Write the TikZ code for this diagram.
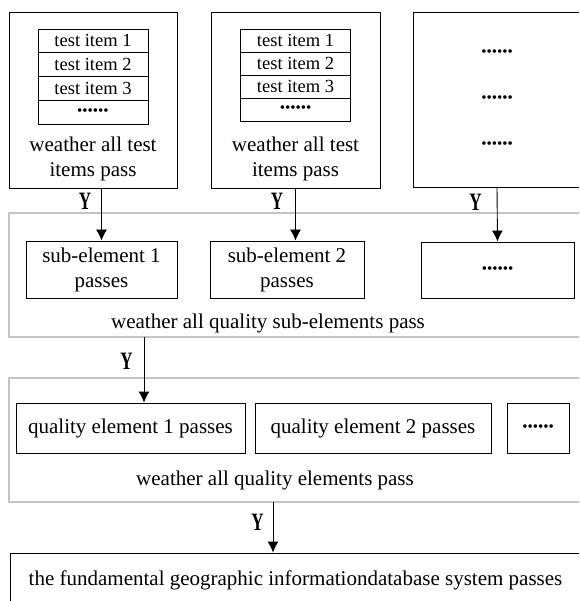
\documentclass[tikz,border=0pt]{standalone}
\usepackage{fontspec}
\setmainfont{Liberation Serif}
\usetikzlibrary{arrows.meta}
\definecolor{grpgray}{RGB}{196,196,196}
\tikzset{
  box/.style={draw, line width=0.9pt, inner sep=0pt, align=center,
    font=\fontsize{21}{25}\selectfont},
  cell/.style={draw, line width=0.9pt, inner sep=0pt, minimum width=110pt,
    font=\fontsize{18.5}{20}\selectfont},
  grp/.style={draw=grpgray, line width=1.1pt, inner sep=0pt},
  txt/.style={inner sep=0pt, align=center, font=\fontsize{21}{25}\selectfont},
  ylbl/.style={inner sep=0pt, font=\bfseries\fontsize{25}{25}\selectfont},
  flow/.style={line width=0.9pt, -{Latex[length=11pt,width=11pt]}}
}
\newcommand{\sixdots}{{\fontsize{15}{15}\selectfont\textbullet\textbullet\textbullet\textbullet\textbullet\textbullet}}
\newcommand{\yes}{\scalebox{0.68}[1]{Y}}
\begin{document}
\begin{tikzpicture}[x=1pt, y=-1pt]
\useasboundingbox (0,0) rectangle (579,601);
\clip (0,0) rectangle (579,601);
% first row: test items
\node[box, minimum width=168pt, minimum height=176pt] (top1) at (93,100) {};
\node[cell, minimum height=23.75pt] (c11) at (93,40.9) {test item 1};
\node[cell, minimum height=23.75pt] (c12) at (93,64.6) {test item 2};
\node[cell, minimum height=23.75pt] (c13) at (93,88.4) {test item 3};
\node[cell, minimum height=23.75pt] (c14) at (93,112.1) {\sixdots};
\node[txt] (w1) at (93,158.5) {weather all test\\items pass};
\node[box, minimum width=169pt, minimum height=176pt] (top2) at (295.5,100) {};
\node[cell, minimum height=23pt] (c21) at (295.5,40.5) {test item 1};
\node[cell, minimum height=23pt] (c22) at (295.5,63.5) {test item 2};
\node[cell, minimum height=23pt] (c23) at (295.5,86.5) {test item 3};
\node[cell, minimum height=23pt] (c24) at (295.5,109.5) {\sixdots};
\node[txt] (w2) at (295.5,158.5) {weather all test\\items pass};
\node[box, minimum width=168pt, minimum height=175pt] (top3) at (497,100) {};
\node[txt] (d1) at (497,53) {\sixdots};
\node[txt] (d2) at (497,99) {\sixdots};
\node[txt] (d3) at (497,145) {\sixdots};
% quality sub-elements
\node[grp, minimum width=582pt, minimum height=124pt] (grp1) at (300,275) {};
\node[box, minimum width=151pt, minimum height=57pt] (sub1) at (101.5,269.5) {sub-element 1\\passes};
\node[box, minimum width=154pt, minimum height=57pt] (sub2) at (287,269.5) {sub-element 2\\passes};
\node[box, minimum width=153pt, minimum height=56pt] (sub3) at (497.5,270) {\sixdots};
\node[txt] (w3) at (268,323) {weather all quality sub-elements pass};
% quality elements
\node[grp, minimum width=582pt, minimum height=124pt] (grp2) at (300,440) {};
\node[box, minimum width=229pt, minimum height=50pt] (q1) at (130.5,428) {quality element 1 passes};
\node[box, minimum width=236pt, minimum height=50pt] (q2) at (373,428) {quality element 2 passes};
\node[box, minimum width=62pt, minimum height=50pt] (q3) at (538,428) {\sixdots};
\node[txt] (w4) at (275,480) {weather all quality elements pass};
% whole system
\node[box, minimum width=571pt, minimum height=54pt] (fin) at (295.5,580) {the fundamental geographic informationdatabase system passes};
\coordinate (j1) at (144,337);
\coordinate (j2) at (273,502);
\draw [flow] (top1.south -| sub1.north) -- node[ylbl, pos=0.25, left=10pt] {\yes} (sub1.north);
\draw [flow] (top2.south) -- node[ylbl, pos=0.25, left=12pt] {\yes} (top2.south |- sub2.north);
\draw [flow] (top3.south) -- node[ylbl, pos=0.27, left=15pt] {\yes} (sub3.north);
\draw [flow] (j1) -- node[ylbl, pos=0.37, left=11pt] {\yes} (j1 |- q1.north);
\draw [flow] (j2) -- node[ylbl, pos=0.4, left=9pt] {\yes} (j2 |- fin.north);
\end{tikzpicture}
\end{document}
